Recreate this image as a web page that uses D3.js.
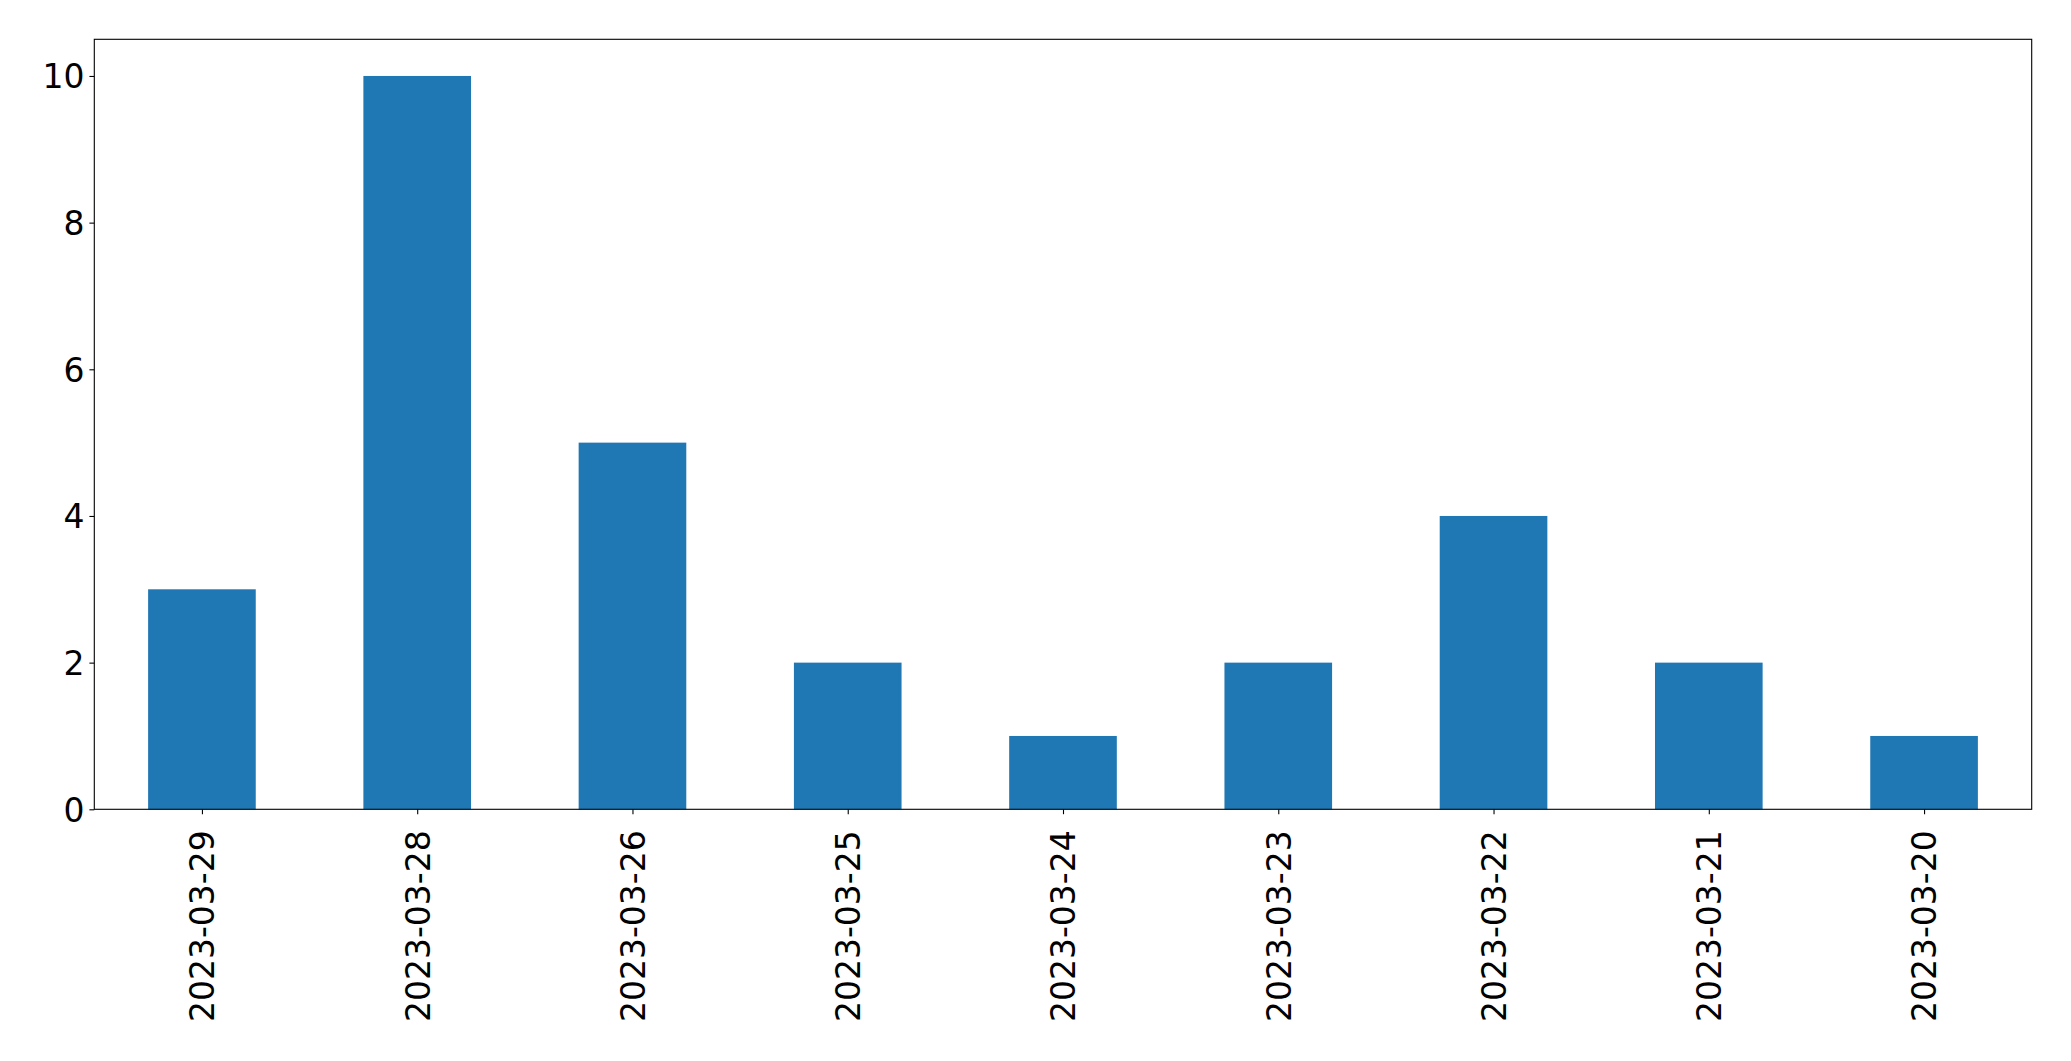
<!DOCTYPE html>
<html>
<head>
<meta charset="utf-8">
<script src="https://cdn.jsdelivr.net/npm/d3@7"></script>
<style>
html,body{margin:0;padding:0;background:#fff;}
svg{display:block;}
text{font-family:"DejaVu Sans",sans-serif;fill:#000;}
</style>
</head>
<body>
<svg id="chart" width="2071" height="1061"></svg>
<script>
const categories = ["2023-03-29","2023-03-28","2023-03-26","2023-03-25","2023-03-24","2023-03-23","2023-03-22","2023-03-21","2023-03-20"];
const values = [3,10,5,2,1,2,4,2,1];
const yTicks = [0,2,4,6,8,10];

(function(){
const W = 2071, H = 1061;
const mLeft = 94.3, mRight = 2031.7, mTop = 39.3, mBottom = 809.3;
const fontSize = 33;

const svg = d3.select("#chart");

const n = categories.length;
const xl = d3.scaleLinear().domain([-0.5, n - 0.5]).range([mLeft, mRight]);
const barWidth = 0.5;
const y = d3.scaleLinear().domain([0, 10.5]).range([mBottom, mTop]);

svg.append("g").selectAll("rect").data(values).join("rect")
  .attr("x", (d,i) => xl(i - barWidth/2))
  .attr("width", (d,i) => xl(i + barWidth/2) - xl(i - barWidth/2))
  .attr("y", d => y(d))
  .attr("height", d => y(0) - y(d))
  .attr("fill", "#1f77b4");

const yAxis = d3.axisLeft(y).tickValues(yTicks).tickSize(4.9).tickPadding(4.9).tickFormat(d3.format("d"));
const gy = svg.append("g").attr("transform", `translate(${mLeft},0)`).call(yAxis);
gy.select(".domain").remove();
gy.selectAll("line").attr("stroke","#000").attr("stroke-width",1.1);
gy.selectAll("text").style("font-size", fontSize+"px").attr("font-family","DejaVu Sans").attr("fill","#000").attr("dy","0.36em");

const xAxis = d3.axisBottom(xl).tickValues(d3.range(n)).tickSize(4.9).tickFormat(i => categories[i]);
const gx = svg.append("g").attr("transform", `translate(0,${mBottom})`).call(xAxis);
gx.select(".domain").remove();
gx.selectAll("line").attr("stroke","#000").attr("stroke-width",1.1);
gx.selectAll("text")
  .style("font-size", fontSize+"px").attr("font-family","DejaVu Sans").attr("fill","#000")
  .attr("text-anchor","end")
  .attr("y", 0).attr("x", 0).attr("dy","0.36em")
  .attr("transform", "translate(0,21) rotate(-90)");

svg.append("rect")
  .attr("x", mLeft).attr("y", mTop)
  .attr("width", mRight - mLeft).attr("height", mBottom - mTop)
  .attr("fill","none").attr("stroke","#000").attr("stroke-width",1.1);
})();
</script>
</body>
</html>
